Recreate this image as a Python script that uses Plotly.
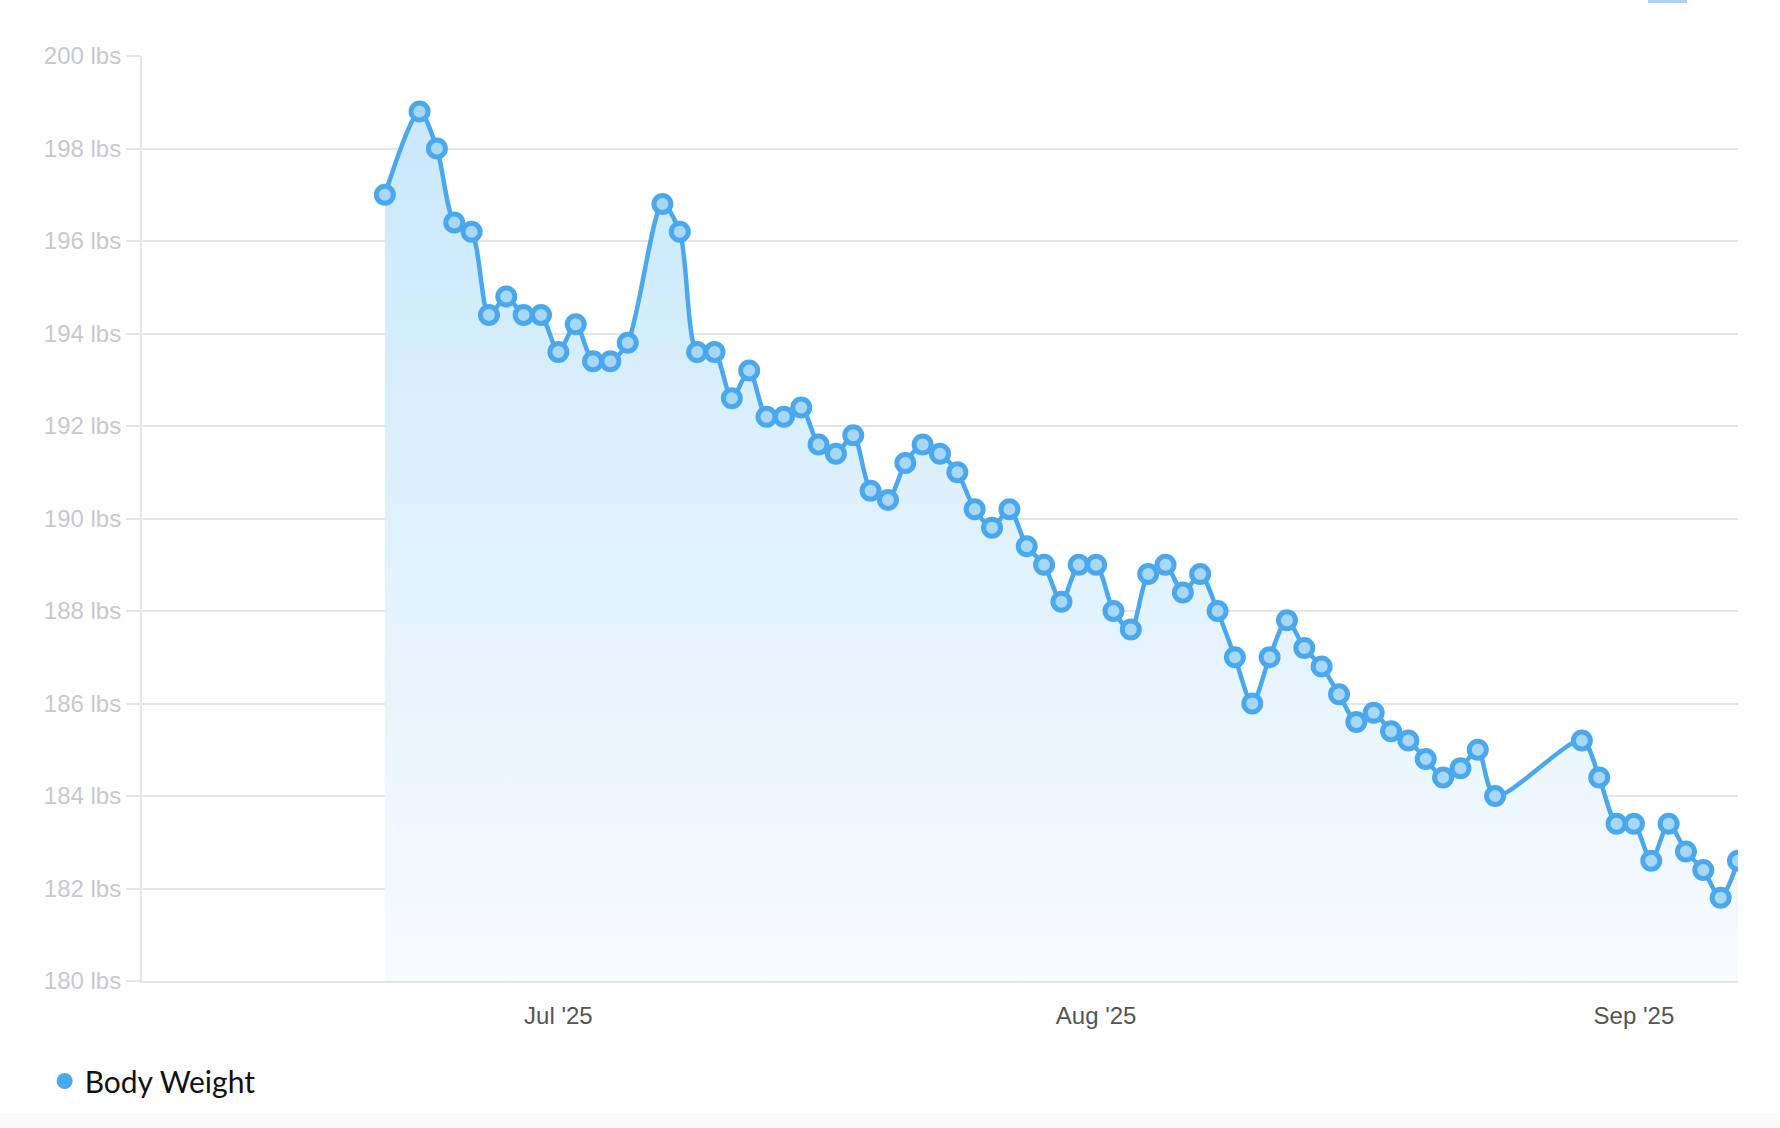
import plotly.graph_objects as go

# ---- data ----
dates = [
    "2025-06-21", "2025-06-23", "2025-06-24", "2025-06-25", "2025-06-26", "2025-06-27",
    "2025-06-28", "2025-06-29", "2025-06-30", "2025-07-01", "2025-07-02", "2025-07-03",
    "2025-07-04", "2025-07-05", "2025-07-07", "2025-07-08", "2025-07-09", "2025-07-10",
    "2025-07-11", "2025-07-12", "2025-07-13", "2025-07-14", "2025-07-15", "2025-07-16",
    "2025-07-17", "2025-07-18", "2025-07-19", "2025-07-20", "2025-07-21", "2025-07-22",
    "2025-07-23", "2025-07-24", "2025-07-25", "2025-07-26", "2025-07-27", "2025-07-28",
    "2025-07-29", "2025-07-30", "2025-07-31", "2025-08-01", "2025-08-02", "2025-08-03",
    "2025-08-04", "2025-08-05", "2025-08-06", "2025-08-07", "2025-08-08", "2025-08-09",
    "2025-08-10", "2025-08-11", "2025-08-12", "2025-08-13", "2025-08-14", "2025-08-15",
    "2025-08-16", "2025-08-17", "2025-08-18", "2025-08-19", "2025-08-20", "2025-08-21",
    "2025-08-22", "2025-08-23", "2025-08-24", "2025-08-29", "2025-08-30", "2025-08-31",
    "2025-09-01", "2025-09-02", "2025-09-03", "2025-09-04", "2025-09-05", "2025-09-06",
    "2025-09-07",
]
weights = [
    197.0, 198.8, 198.0, 196.4, 196.2, 194.4,
    194.8, 194.4, 194.4, 193.6, 194.2, 193.4,
    193.4, 193.8, 196.8, 196.2, 193.6, 193.6,
    192.6, 193.2, 192.2, 192.2, 192.4, 191.6,
    191.4, 191.8, 190.6, 190.4, 191.2, 191.6,
    191.4, 191.0, 190.2, 189.8, 190.2, 189.4,
    189.0, 188.2, 189.0, 189.0, 188.0, 187.6,
    188.8, 189.0, 188.4, 188.8, 188.0, 187.0,
    186.0, 187.0, 187.8, 187.2, 186.8, 186.2,
    185.6, 185.8, 185.4, 185.2, 184.8, 184.4,
    184.6, 185.0, 184.0, 185.2, 184.4, 183.4,
    183.4, 182.6, 183.4, 182.8, 182.4, 181.8,
    182.6,
]
series_name = "Body Weight"
x_range = ["2025-06-07", "2025-09-07"]
y_range = [180, 200]

BLUE = "#4aa8ee"
GRID = "#e6e6e9"

# plot-area geometry (px) used to place paper-referenced decorations
L, R, T, B = 142, 1738, 56, 981
PW, PH = R - L, B - T


def px_x(p):
    return (p - L) / PW


def px_y(p):
    return (B - p) / PH


fig = go.Figure()

fig.add_trace(go.Scatter(
    x=dates, y=weights, name=series_name, showlegend=False,
    mode="lines+markers",
    line=dict(color=BLUE, width=4.5, shape="spline", smoothing=0.8),
    marker=dict(size=17, color="#a8d8f6", line=dict(color=BLUE, width=5)),
    fill="tozeroy",
    fillgradient=dict(type="vertical", start=180, stop=200,
                      colorscale=[[0, "#f7fbfe"], [1, "#c6e7fa"]]),
    hoverinfo="x+y",
))

# legend entry
fig.add_trace(go.Scatter(
    x=[None], y=[None], name=series_name, mode="markers",
    marker=dict(size=22, color=BLUE), showlegend=True,
))

fig.update_layout(
    width=1780, height=1128,
    margin=dict(l=L, r=1780 - R, t=T, b=1128 - B),
    paper_bgcolor="white", plot_bgcolor="white",
    font=dict(family="Liberation Sans, Arial, sans-serif"),
    showlegend=True,
    legend=dict(
        orientation="h", x=-0.061, y=-0.080, xanchor="left", yanchor="top",
        font=dict(family="Lato, sans-serif", size=30, color="#111111"),
        bgcolor="rgba(0,0,0,0)",
    ),
    xaxis=dict(
        type="date", range=x_range, showgrid=False,
        tick0="2025-07-01", dtick="M1", tickformat="%b '%y",
        tickfont=dict(size=24, color="#555555"),
        ticks="", ticklabelstandoff=12,
        showline=True, linecolor=GRID, linewidth=2,
        zeroline=False, fixedrange=True,
    ),
    yaxis=dict(
        range=y_range, dtick=2, tick0=180, ticksuffix=" lbs",
        tickfont=dict(size=24, color="#c8c8cf"),
        showgrid=True, gridcolor=GRID, gridwidth=2,
        ticks="outside", ticklen=14, tickcolor=GRID, tickwidth=2,
        showline=True, linecolor=GRID, linewidth=2,
        zeroline=False, fixedrange=True,
    ),
    shapes=[
        dict(type="rect", xref="paper", yref="paper", x0=px_x(1648), x1=px_x(1687),
             y0=px_y(3), y1=px_y(-6),
             fillcolor="#a8d4ef", line=dict(width=0), layer="above"),
        dict(type="rect", xref="paper", yref="paper", x0=px_x(0), x1=px_x(1780),
             y0=px_y(1128), y1=px_y(1113),
             fillcolor="#fafafa", line=dict(width=0), layer="below"),
    ],
)

fig.write_html(
    "out.html",
    config={"displayModeBar": False},
    post_script="document.body.style.margin='0';document.body.style.overflow='hidden';",
)
